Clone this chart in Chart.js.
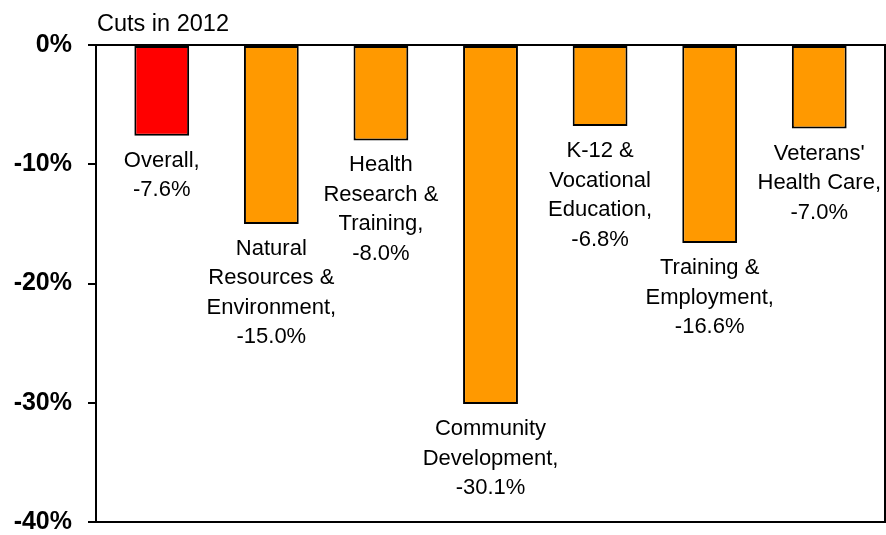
<!DOCTYPE html>
<html>
<head>
<meta charset="utf-8">
<script src="https://cdn.jsdelivr.net/npm/chart.js@4.4.1/dist/chart.umd.min.js"></script>
<style>
html,body{margin:0;padding:0;background:#fff;}
#wrap{width:886px;height:535px;}
</style>
</head>
<body>
<div id="wrap"><canvas id="c" width="886" height="535"></canvas></div>
<script>
const chartTitle = "Cuts in 2012";
const categories = [
  ["Overall,"],
  ["Natural", "Resources &", "Environment,"],
  ["Health", "Research &", "Training,"],
  ["Community", "Development,"],
  ["K-12 &", "Vocational", "Education,"],
  ["Training &", "Employment,"],
  ["Veterans'", "Health Care,"]
];
const values = [-7.6, -15.0, -8.0, -30.1, -6.8, -16.6, -7.0];
const barColors = ["#FF0000", "#FF9900", "#FF9900", "#FF9900", "#FF9900", "#FF9900", "#FF9900"];
const yTicks = [0, -10, -20, -30, -40];

const FONT = "'Liberation Sans', Arial, sans-serif";

const labelPlugin = {
  id: 'labelPlugin',
  afterDatasetsDraw(chart) {
    const ctx = chart.ctx;
    const meta = chart.getDatasetMeta(0);
    ctx.save();
    ctx.fillStyle = '#000';
    ctx.font = "22px " + FONT;
    ctx.textAlign = 'center';
    ctx.textBaseline = 'middle';
    meta.data.forEach((bar, i) => {
      const lines = categories[i].concat([values[i].toFixed(1) + '%']);
      lines.forEach((ln, j) => {
        ctx.fillText(ln, bar.x, bar.y + 25 + j * 29.5);
      });
    });
    ctx.restore();
  },
  afterDraw(chart) {
    const ctx = chart.ctx;
    const a = chart.chartArea;
    ctx.save();
    ctx.strokeStyle = '#000';
    ctx.lineWidth = 2;
    ctx.strokeRect(a.left, a.top, a.right - a.left, a.bottom - a.top);
    ctx.fillStyle = '#000';
    ctx.font = "23.5px " + FONT;
    ctx.textAlign = 'left';
    ctx.textBaseline = 'alphabetic';
    ctx.fillText(chartTitle, a.left + 1, a.top - 14);
    ctx.restore();
  }
};

new Chart(document.getElementById('c'), {
  type: 'bar',
  data: {
    datasets: [{
      data: values.map((v, i) => ({x: i, y: v})),
      backgroundColor: barColors,
      borderColor: '#000',
      borderWidth: 2,
      borderSkipped: false,
      barPercentage: 0.5,
      categoryPercentage: 1.0
    }]
  },
  options: {
    responsive: false,
    animation: false,
    layout: {padding: {top: 45, bottom: 13, right: 1, left: 0}},
    plugins: {legend: {display: false}, tooltip: {enabled: false}, title: {display: false}},
    scales: {
      x: {
        type: 'linear',
        min: -0.6,
        max: 6.6,
        offset: false,
        display: false,
        afterBuildTicks(scale) { scale.ticks = values.map((v, i) => ({value: i})); }
      },
      y: {
        min: -40,
        max: 0,
        afterFit(scale) { scale.width = 96; scale.paddingTop = 0; scale.paddingBottom = 0; },
        afterBuildTicks(scale) { scale.ticks = yTicks.map(v => ({value: v})); },
        border: {display: true, color: '#000', width: 2},
        grid: {drawOnChartArea: false, tickLength: 8, tickColor: '#000', lineWidth: 2},
        ticks: {
          color: '#000',
          padding: 16,
          font: {family: FONT, size: 25, weight: 'bold'},
          callback: v => v + '%'
        }
      }
    }
  },
  plugins: [labelPlugin]
});
</script>
</body>
</html>
